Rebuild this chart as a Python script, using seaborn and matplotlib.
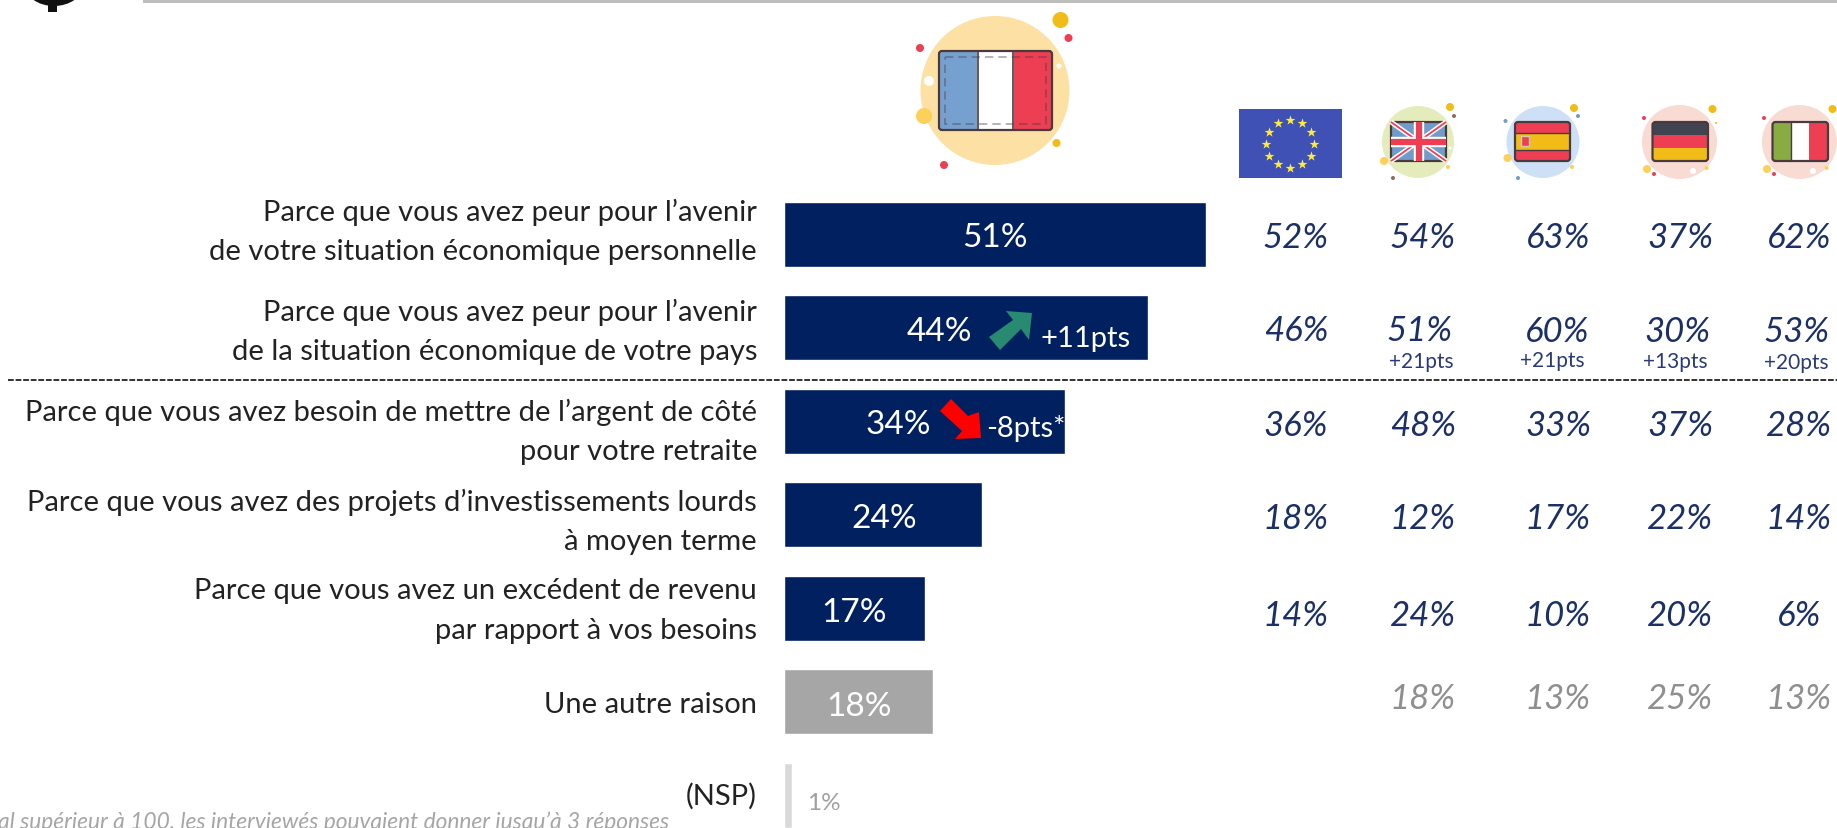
import numpy as np
import pandas as pd
import matplotlib
matplotlib.use('Agg')
import matplotlib.pyplot as plt
from matplotlib.patches import Ellipse, Rectangle, FancyBboxPatch, Polygon
import seaborn as sns

reasons = [
    "Parce que vous avez peur pour l’avenir\nde votre situation économique personnelle",
    "Parce que vous avez peur pour l’avenir\nde la situation économique de votre pays",
    "Parce que vous avez besoin de mettre de l’argent de côté\npour votre retraite",
    "Parce que vous avez des projets d’investissements lourds\nà moyen terme",
    "Parce que vous avez un excédent de revenu\npar rapport à vos besoins",
    "Une autre raison",
    "(NSP)",
]
france = [51, 44, 34, 24, 17, 18, 1]
eu = [52, 46, 36, 18, 14, None, None]
uk = [54, 51, 48, 12, 24, 18, None]
es = [63, 60, 33, 17, 10, 13, None]
de = [37, 30, 37, 22, 20, 25, None]
it = [62, 53, 28, 14, 6, 13, None]
row2_deltas = ['+21pts', '+21pts', '+13pts', '+20pts']
fr_deltas = ['+11pts', '-8pts*']

NAVY = '#00205f'
TXT_NAVY = '#1c3068'
W, H = 1837, 829

sns.set_theme(style='white')
plt.rcParams['font.family'] = ['Lato', 'DejaVu Sans']

fig = plt.figure(figsize=(W / 100, H / 100), dpi=100)
ax = fig.add_axes([0, 0, 1, 1])
df = pd.DataFrame({'reason': reasons, 'france': france})
sns.barplot(data=df, x='france', y='reason', hue='reason', legend=False,
            palette=[NAVY] * 5 + ['#a6a6a6', '#d9d9d9'], width=65 / 93.5, saturation=1, ax=ax)
ax.set_xlim(-784 / 8.27, (W - 784) / 8.27)
ax.set_ylim((H - 235) / 93.5, -235 / 93.5)
ax.axis('off')

# everything else on the slide is placed in pixels
ov = fig.add_axes([0, 0, 1, 1], zorder=3)
ov.set_xlim(0, W)
ov.set_ylim(H, 0)
ov.axis('off')
ov.patch.set_alpha(0)


def px(x, y, s, size=24, color='#222222', ha='center', va='center', **kw):
    ov.text(x, y, s, fontsize=size, color=color, ha=ha, va=va, **kw)


label_y = [232, 332, 432, 522, 611, 705, 796]
for r, y in zip(reasons, label_y):
    px(757, y, r, size=21, ha='right', linespacing=1.62, multialignment='right')

bar_x = [995, 939, 898, 884, 854, 859]
for v, x, y in zip(france, bar_x, [238, 331.5, 425.5, 519.5, 613.5, 707.5]):
    px(x, y, f"{v}%", size=24, color='white')
px(824, 804, f"{france[6]}%", size=17.5, color='#a0a0a0')
px(1086, 339, fr_deltas[0], size=21, color='white')
px(1026, 429, fr_deltas[1], size=21, color='white')

ov.add_patch(Polygon([(989, 338), (1013, 321), (1006, 312), (1032, 314), (1029, 341), (1021, 330), (1000, 351)],
                     fc='#288a70', ec='none'))
ov.add_patch(Polygon([(940, 412), (951, 400), (968, 417), (979, 413), (981, 439), (955, 440), (962, 432)],
                     fc='#ff0000', ec='none'))

ov.plot([8, W], [381, 381], color='#222222', lw=1.3, ls=(0, (3.2, 1.0)))

col_x = [1296, 1423, 1558, 1680, 1799]
row_y = [238, 331, 426, 519, 616, 699]
row2_dx = [0, -3, -1, -3, -2]
for c, (xc, vals) in enumerate(zip(col_x, [eu, uk, es, de, it])):
    for i, v in enumerate(vals):
        if v is None:
            continue
        x = xc + (row2_dx[c] if i == 1 else 0)
        y = row_y[i] + (1 if i == 1 and c > 1 else 0)
        px(x, y, f"{v}%", size=25, color=TXT_NAVY if i < 5 else '#8f8f8f', style='italic')
for s, x, y in zip(row2_deltas, [1421, 1552, 1675, 1796], [362, 361, 362, 363]):
    px(x, y, s, size=15, color='#2a3a78')

px(-2, 829, 'al supérieur à 100, les interviewés pouvaient donner jusqu’à 3 réponses',
   size=16.4, color='#a6a6a6', ha='left', va='baseline', style='italic')

# header band and logo stub
ov.add_patch(Rectangle((143, 0), W - 143, 4, fc='#bdbdbd', ec='none'))
ov.add_patch(Ellipse((54, -14), 58, 42, fc='#111111', ec='none'))
ov.add_patch(Rectangle((48, 0), 9, 13, fc='#111111', ec='none'))

RED = '#ee3e54'
YEL = '#f2bc18'
SOFT = '#fdd05a'


def flag(x0, y0, w, h, parts, vertical=True):
    # parts = list of (fraction, colour)
    pos = 0
    for frac, col in parts:
        if vertical:
            ov.add_patch(Rectangle((x0 + w * pos, y0), w * frac, h, fc=col, ec='none'))
        else:
            ov.add_patch(Rectangle((x0, y0 + h * pos), w, h * frac, fc=col, ec='none'))
        pos += frac


def frame(x0, y0, w, h):
    ov.add_patch(FancyBboxPatch((x0, y0), w, h, boxstyle='round,pad=0,rounding_size=3',
                                fc='none', ec='#4a3a3e', lw=1.6))


def dots(items):
    for (x, y, r, col) in items:
        ov.add_patch(Ellipse((x, y), 2 * r, 2 * r, fc=col, ec='none'))


# France
ov.add_patch(Ellipse((995, 91.5), 149, 149, fc='#fce0a4', ec='none'))
flag(939, 52, 113, 79, [(.34, '#76a0d0'), (.32, '#ffffff'), (.34, RED)])
ov.plot([977.5, 977.5], [52, 131], color='#4a3a3e', lw=1.2)
ov.plot([1013, 1013], [52, 131], color='#4a3a3e', lw=1.2)
ov.add_patch(Rectangle((945, 58), 101, 67, fc='none', ec='#4a3a3e', alpha=0.45, lw=1.2, ls=(0, (5, 3))))
frame(939, 52, 113, 79)
dots([(1060.5, 21, 8, YEL), (1068.5, 39, 4, RED), (920, 49, 4, RED), (924, 117, 8, SOFT),
      (1056.5, 144, 4, YEL), (944, 166, 4, RED), (929, 82, 5, '#ffffff'), (1059, 67, 2.5, '#ffffff')])

# EU
ov.add_patch(Rectangle((1239, 110), 103, 69, fc='#3f51b5', ec='none'))
angles = np.linspace(0, 2 * np.pi, 12, endpoint=False)
ov.scatter(1290 + 24 * np.cos(angles), 144.5 + 24 * np.sin(angles), marker='*', s=55,
           color='#ffeb3b', linewidths=0)

# UK
ov.add_patch(Ellipse((1418, 143), 72, 72, fc='#e5ecbc', ec='none'))
flag(1391, 123, 55, 39, [(1, '#6f9ccb')])
for ends in [([1391, 1446], [123, 162]), ([1391, 1446], [162, 123])]:
    ov.plot(*ends, color='#ffffff', lw=3.5, solid_capstyle='butt')
    ov.plot(*ends, color=RED, lw=1.3, solid_capstyle='butt')
ov.plot([1391, 1446], [142.5, 142.5], color='#ffffff', lw=7.5, solid_capstyle='butt')
ov.plot([1418.5, 1418.5], [123, 162], color='#ffffff', lw=7.5, solid_capstyle='butt')
ov.plot([1391, 1446], [142.5, 142.5], color=RED, lw=4.5, solid_capstyle='butt')
ov.plot([1418.5, 1418.5], [123, 162], color=RED, lw=4.5, solid_capstyle='butt')
frame(1391, 123, 55, 39)
dots([(1450, 108, 4, YEL), (1454, 117, 2, '#8a6d5a'), (1384, 162, 4, SOFT), (1448, 168, 2, SOFT),
      (1393, 179, 2, '#8a6d5a'), (1450, 149, 1.5, '#ffffff')])

# Spain
ov.add_patch(Ellipse((1543, 143), 73, 72, fc='#cde0f5', ec='none'))
flag(1515, 123, 55, 39, [(.28, RED), (.44, YEL), (.28, RED)], vertical=False)
ov.add_patch(Rectangle((1521, 137), 8, 10, fc=RED, ec='#d8c8b0', lw=1))
ov.plot([1515, 1570], [134, 134], color='#4a3a3e', lw=1)
ov.plot([1515, 1570], [150.5, 150.5], color='#4a3a3e', lw=1)
frame(1515, 123, 55, 39)
dots([(1574, 109, 4, YEL), (1578, 117, 2, '#6f9ccb'), (1505.5, 122, 2, '#6f9ccb'), (1507.5, 159, 4, SOFT),
      (1572, 168, 2, SOFT), (1518, 179, 2, '#6f9ccb')])

# Germany
ov.add_patch(Ellipse((1679.5, 143), 75, 74, fc='#f8dbd2', ec='none'))
flag(1652.5, 123, 55.5, 39, [(.33, '#3f4450'), (.34, RED), (.33, YEL)], vertical=False)
frame(1652.5, 123, 55.5, 39)
dots([(1712.5, 110, 4, YEL), (1644, 119, 2, RED), (1647, 170, 4, SOFT), (1654, 175, 2, RED),
      (1706.5, 169, 2, SOFT), (1693, 172, 3, '#ffffff'), (1716, 124, 1, YEL)])

# Italy
ov.add_patch(Ellipse((1799.5, 143), 75, 74, fc='#f8dbd2', ec='none'))
flag(1772.5, 123, 55.5, 39, [(.33, '#88ab44'), (.32, '#ffffff'), (.35, RED)])
ov.plot([1791, 1791], [123, 162], color='#4a3a3e', lw=1)
frame(1772.5, 123, 55.5, 39)
dots([(1832.5, 110, 4, YEL), (1764, 119, 2, RED), (1767, 170, 4, SOFT), (1774, 175, 2, RED),
      (1826.5, 169, 2, SOFT), (1813, 172, 3, '#ffffff')])

fig.savefig('out.png', dpi=100)
